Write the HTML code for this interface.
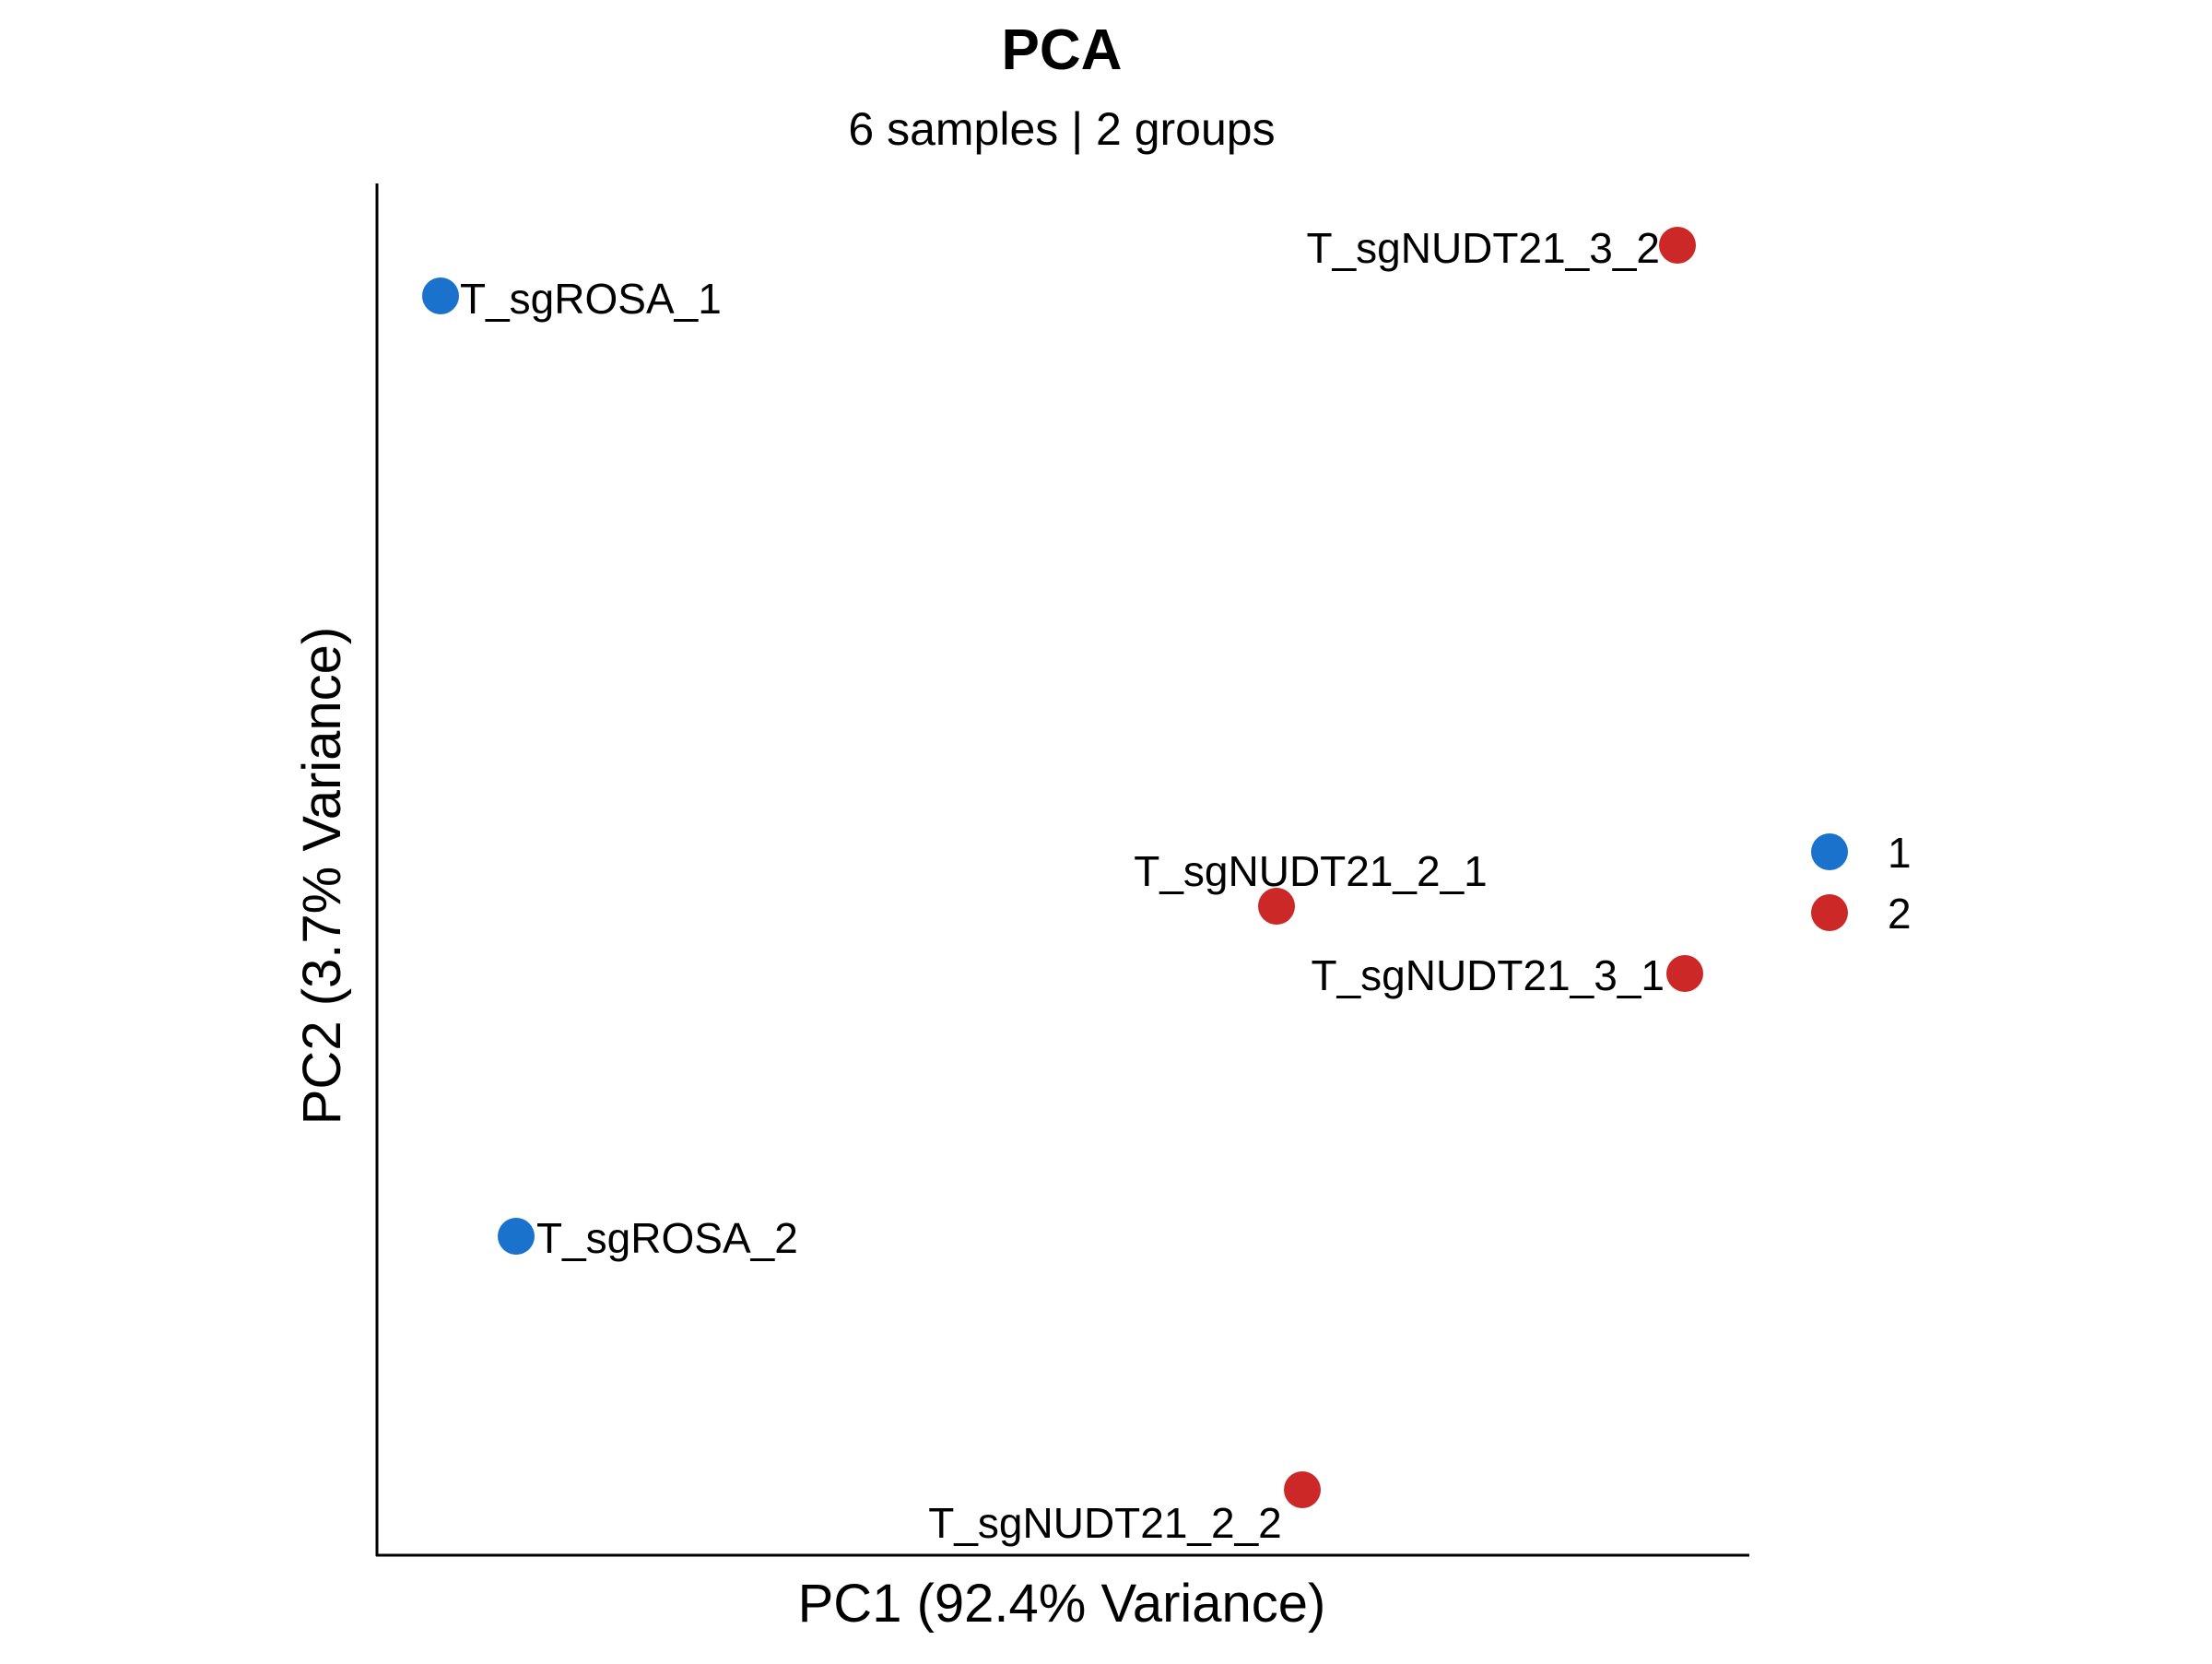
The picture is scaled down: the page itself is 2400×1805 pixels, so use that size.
<!DOCTYPE html>
<html><head><meta charset="utf-8"><style>html,body{margin:0;padding:0;background:#fff}</style></head>
<body>
<svg width="2400" height="1800" viewBox="0 0 2400 1800" xmlns="http://www.w3.org/2000/svg" font-family="Liberation Sans, Arial, sans-serif">
<rect width="2400" height="1800" fill="#fff"/>
<text x="1152" y="75" font-size="62" font-weight="bold" text-anchor="middle">PCA</text>
<text x="1152" y="157" font-size="50" text-anchor="middle">6 samples | 2 groups</text>
<line x1="409" y1="199" x2="409" y2="1688" stroke="#000" stroke-width="3"/>
<line x1="408" y1="1687" x2="1898" y2="1687" stroke="#000" stroke-width="3"/>
<text x="1152" y="1759" font-size="58" text-anchor="middle">PC1 (92.4% Variance)</text>
<text transform="translate(369,950) rotate(-90)" font-size="58" text-anchor="middle">PC2 (3.7% Variance)</text>
<g fill="#1a72cc">
<circle cx="478" cy="321" r="20"/>
<circle cx="560" cy="1341" r="20"/>
<circle cx="1985" cy="924" r="20"/>
</g>
<g fill="#cc2828">
<circle cx="1820" cy="266" r="20"/>
<circle cx="1385" cy="983" r="20"/>
<circle cx="1828" cy="1056" r="20"/>
<circle cx="1413" cy="1616" r="20"/>
<circle cx="1985" cy="990" r="20"/>
</g>
<g font-size="46">
<text x="499" y="340">T_sgROSA_1</text>
<text x="582" y="1359">T_sgROSA_2</text>
<text x="1801" y="285" text-anchor="end">T_sgNUDT21_3_2</text>
<text x="1422" y="961" text-anchor="middle">T_sgNUDT21_2_1</text>
<text x="1806" y="1074" text-anchor="end">T_sgNUDT21_3_1</text>
<text x="1199" y="1668" text-anchor="middle">T_sgNUDT21_2_2</text>
<text x="2048" y="941">1</text>
<text x="2048" y="1007">2</text>
</g>
</svg>
</body></html>
